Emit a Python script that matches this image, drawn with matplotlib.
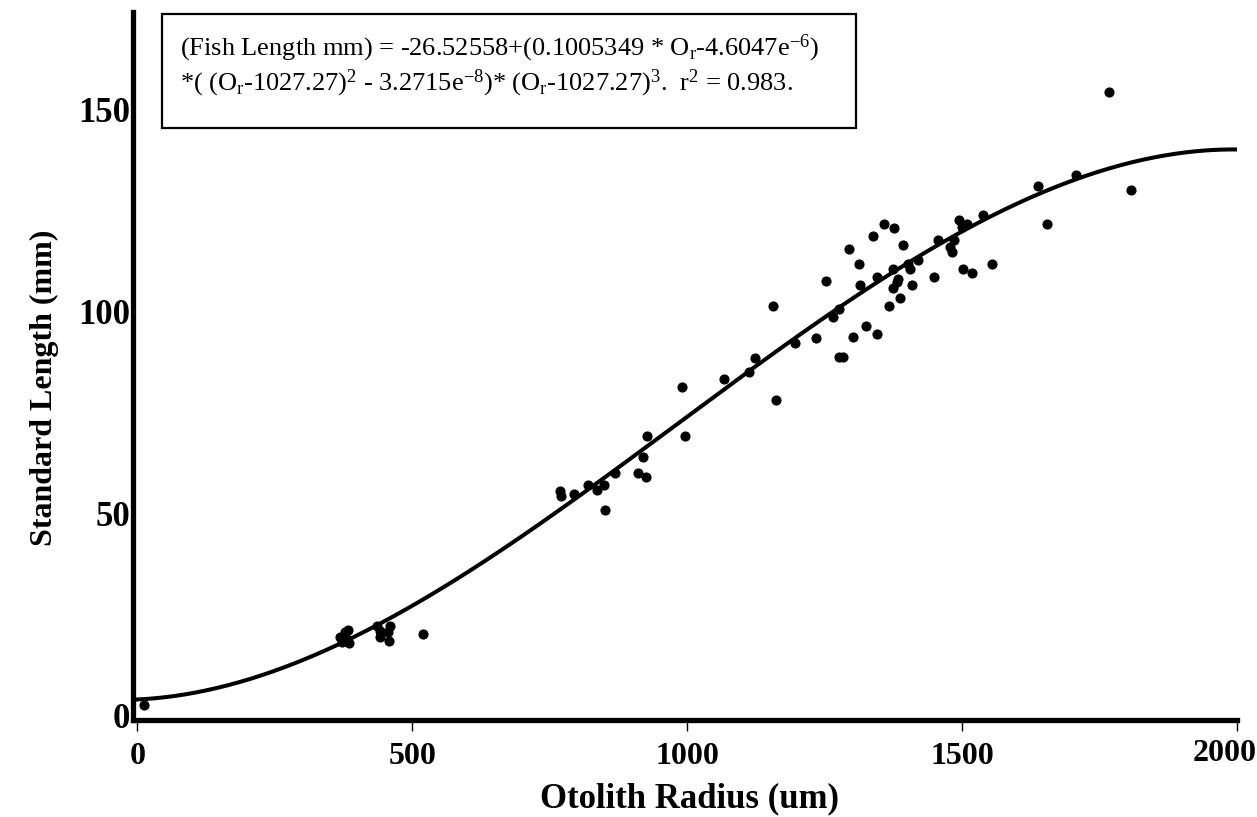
import numpy as np
import matplotlib
matplotlib.use("Agg")
import matplotlib.pyplot as plt

plt.rcParams['font.family'] = ['Liberation Serif', 'DejaVu Serif']
plt.rcParams['mathtext.fontset'] = 'custom'
plt.rcParams['mathtext.rm'] = 'Liberation Serif'
plt.rcParams['mathtext.it'] = 'Liberation Serif:italic'
plt.rcParams['mathtext.bf'] = 'Liberation Serif:bold'

# otolith radius (um) vs standard length (mm)
radius = [12,
          368, 372, 378, 383, 385, 380,
          436, 441, 441, 456, 457, 460, 519,
          769, 770, 794, 820, 836, 849, 850, 869, 910, 925, 920, 927,
          991, 996, 1067, 1112, 1123, 1156, 1161, 1196,
          1234, 1253, 1265, 1276, 1276, 1283, 1295, 1302, 1312, 1314, 1325,
          1338, 1345, 1345, 1358, 1367, 1374, 1376, 1374, 1381, 1387, 1383,
          1393, 1402, 1405, 1409, 1420, 1449, 1457, 1478, 1482, 1486, 1495,
          1500, 1509, 1502, 1518, 1538, 1554,
          1638, 1654, 1707, 1767, 1807]
length = [2.8,
          19.5, 18.2, 20.8, 21.3, 18.0, 19.2,
          22.3, 21.0, 19.5, 20.8, 18.5, 22.3, 20.2,
          55.6, 54.5, 54.9, 57.1, 55.8, 57.1, 50.9, 60.0, 60.0, 59.1, 64.0, 69.2,
          81.3, 69.2, 83.3, 85.0, 88.5, 101.3, 78.1, 92.2,
          93.4, 107.5, 98.6, 100.6, 88.7, 88.7, 115.4, 93.6, 111.7, 106.5, 96.4,
          118.6, 94.4, 108.5, 121.6, 101.3, 110.5, 120.6, 105.8, 107.2, 103.3, 108.0,
          116.4, 111.7, 110.5, 106.5, 112.7, 108.5, 117.6, 115.9, 114.7, 117.6, 122.6,
          120.8, 121.6, 110.5, 109.5, 123.8, 111.7,
          131.0, 121.6, 133.7, 154.2, 130.0]

x_ticks = [0, 500, 1000, 1500, 2000]
y_ticks = [0, 50, 100, 150]

# cubic fit coefficients
b0 = -26.52558
b1 = 0.1005349
b2 = -4.6047e-6
b3 = -3.2715e-8
r0 = 1027.27

fig = plt.figure(figsize=(12.57, 8.17), dpi=100)
ax = fig.add_axes([0.1058, 0.1187, 0.8782, 0.8663])

xs = np.linspace(0, 2000, 400)
ys = b0 + b1 * xs + b2 * (xs - r0) ** 2 + b3 * (xs - r0) ** 3
ax.plot(xs, ys, color='black', lw=2.9, zorder=2)
ax.plot(radius, length, 'o', color='black', ms=6.3, zorder=3)

ax.set_xlim(-8, 2000)
ax.set_ylim(-1, 174)
ax.set_xticks(x_ticks)
ax.set_xticklabels([str(t) for t in x_ticks[:-1]] + [''])
ax.set_yticks(y_ticks)
ax.tick_params(axis='x', length=8, width=1, direction='out', labelsize=23, pad=8)
ax.tick_params(axis='y', length=0, labelsize=25, pad=2)
for lab in ax.get_xticklabels() + ax.get_yticklabels():
    lab.set_fontweight('bold')
# last x label pulled in so it stays on the canvas
ax.annotate(str(x_ticks[-1]), xy=(x_ticks[-1], 0), xycoords=('data', 'axes fraction'),
            xytext=(14, -14), textcoords='offset points', ha='right', va='top',
            fontsize=23, fontweight='bold')

for s in ['top', 'right']:
    ax.spines[s].set_visible(False)
for s in ['left', 'bottom']:
    ax.spines[s].set_linewidth(3.8)

ax.set_xlabel('Otolith Radius (um)', fontsize=25, fontweight='bold')
ax.set_ylabel('Standard Length (mm)', fontsize=23, fontweight='bold')
ax.xaxis.set_label_coords(0.5045, -0.088)
ax.yaxis.set_label_coords(-0.067, 0.47)

eq = ("(Fish Length mm) = -26.52558+(0.1005349 * O$_\\mathrm{r}$-4.6047e$^{\\mathrm{-6}}$)\n"
      "*( (O$_\\mathrm{r}$-1027.27)$^{\\mathrm{2}}$ - 3.2715e$^{\\mathrm{-8}}$)* (O$_\\mathrm{r}$-1027.27)$^{\\mathrm{3}}$.  r$^{\\mathrm{2}}$ = 0.983.")
fig.text(180 / 1257, 1 - 33 / 817, eq, fontsize=19, va='top', ha='left', linespacing=1.15)
box = plt.Rectangle((162 / 1257, 1 - 128 / 817), 694 / 1257, 114 / 817,
                    transform=fig.transFigure, fill=False, ec='black', lw=1.6)
fig.add_artist(box)

fig.savefig('out.png', dpi=100)
